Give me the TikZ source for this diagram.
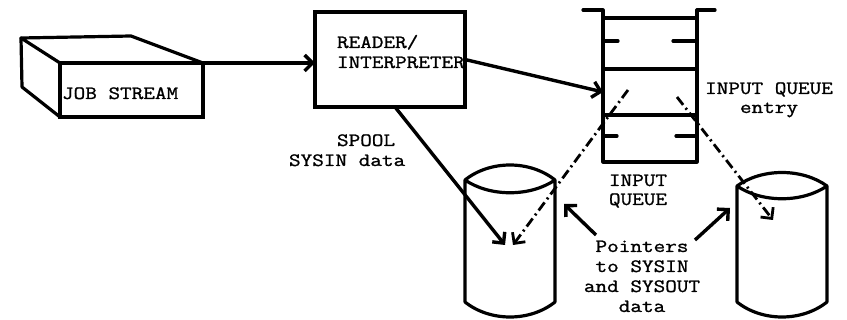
\documentclass[tikz,border=0pt]{standalone}
\usepackage{fontspec}
\newfontfamily\tw[FakeStretch=1.2,FakeBold=1.2]{Latin Modern Mono}
\usetikzlibrary{arrows.meta,calc}
\begin{document}
\begin{tikzpicture}[x=1pt,y=-1pt,
  every node/.style={inner sep=0pt,outer sep=0pt},
  lbl/.style={font=\tw\fontsize{18.8}{20}\selectfont,anchor=base west},
  lblc/.style={font=\tw\fontsize{18.8}{20}\selectfont,anchor=base},
  thick line/.style={line width=3.2pt,line join=round,line cap=round},
  flow/.style={line width=3.4pt,-{Straight Barb[length=8pt,width=16pt]}},
  ptr/.style={line width=2.8pt,dash pattern=on 10pt off 4pt on 2pt off 4pt,-{Straight Barb[length=8pt,width=16pt]}},
  boxline/.style={draw,line width=3.2pt}]
\useasboundingbox (0,0) rectangle (847,320);
\fill[white] (0,0) rectangle (847,320);

% job stream
\node[boxline,anchor=north west,minimum width=143pt,minimum height=54pt] (js) at (60,63) {};
\draw[thick line] (js.north west) -- (21,38) -- (131,36) -- (js.north east);
\draw[thick line] (21,38) -- (22,87) -- (js.south west);
\node[lbl] (jst) at (62,99) {JOB STREAM};

% reader/interpreter
\node[boxline,anchor=north west,minimum width=150pt,minimum height=95pt] (reader) at (315,12) {};
\node[lbl] (rt1) at (337,48) {READER/};
\node[lbl] (rt2) at (337,68) {INTERPRETER};

% input queue
\draw[thick line] (583,10) -- (603,10) -- (603,162) -- (697,162) -- (697,10) -- (715,10);
\draw[thick line] (603,18) -- (697,18);
\draw[thick line] (603,69) -- (697,69);
\draw[thick line] (603,115) -- (697,115);
\draw[thick line] (603,41) -- (618,41) (673,41) -- (697,41);
\draw[thick line] (603,136) -- (617,136) (676,136) -- (697,136);
\coordinate (qin) at (603,92);
\coordinate (qp1) at (628,90);
\coordinate (qp2) at (677,97);

% disks
\draw[thick line] (465,180) .. controls (490,160) and (530,160) .. (555,180)
  .. controls (530,197) and (490,197) .. (465,180) -- (465,302)
  .. controls (490,322) and (530,322) .. (555,302) -- (555,180);
\draw[thick line] (737,186) .. controls (762,168) and (802,168) .. (827,186)
  .. controls (802,203) and (762,203) .. (737,186) -- (737,302)
  .. controls (762,322) and (802,322) .. (827,302) -- (827,186);
\coordinate (d1a) at (505,245);
\coordinate (d1b) at (513,245);
\coordinate (d1p) at (564,204);
\coordinate (d2a) at (773,220);
\coordinate (d2p) at (730,208);

% labels
\node[lbl] (sp1) at (337,146) {SPOOL};
\node[lbl] (sp2) at (289,166) {SYSIN data};
\node[lblc] (iq1) at (769,94) {INPUT QUEUE};
\node[lblc] (iq2) at (769,113) {entry};
\node[lblc] (q1) at (638,186) {INPUT};
\node[lblc] (q2) at (638,205) {QUEUE};
\node[lblc] (p1) at (642,252) {Pointers};
\node[lblc] (p2) at (642,272) {to SYSIN};
\node[lblc] (p3) at (642,292) {and SYSOUT};
\node[lblc] (p4) at (642,312) {data};
\coordinate (p1l) at (596,235);
\coordinate (p1r) at (695,240);

% connectors
\draw[flow] (js.north east) -- (js.north east -| reader.west);
\draw[flow] (reader.east) -- (qin);
\draw[flow] ($(reader.south)+(5,0)$) -- (d1a);
\draw[ptr] (qp1) -- (d1b);
\draw[ptr] (qp2) -- (d2a);
\draw[flow] (p1l) -- (d1p);
\draw[flow] (p1r) -- (d2p);
\end{tikzpicture}
\end{document}
